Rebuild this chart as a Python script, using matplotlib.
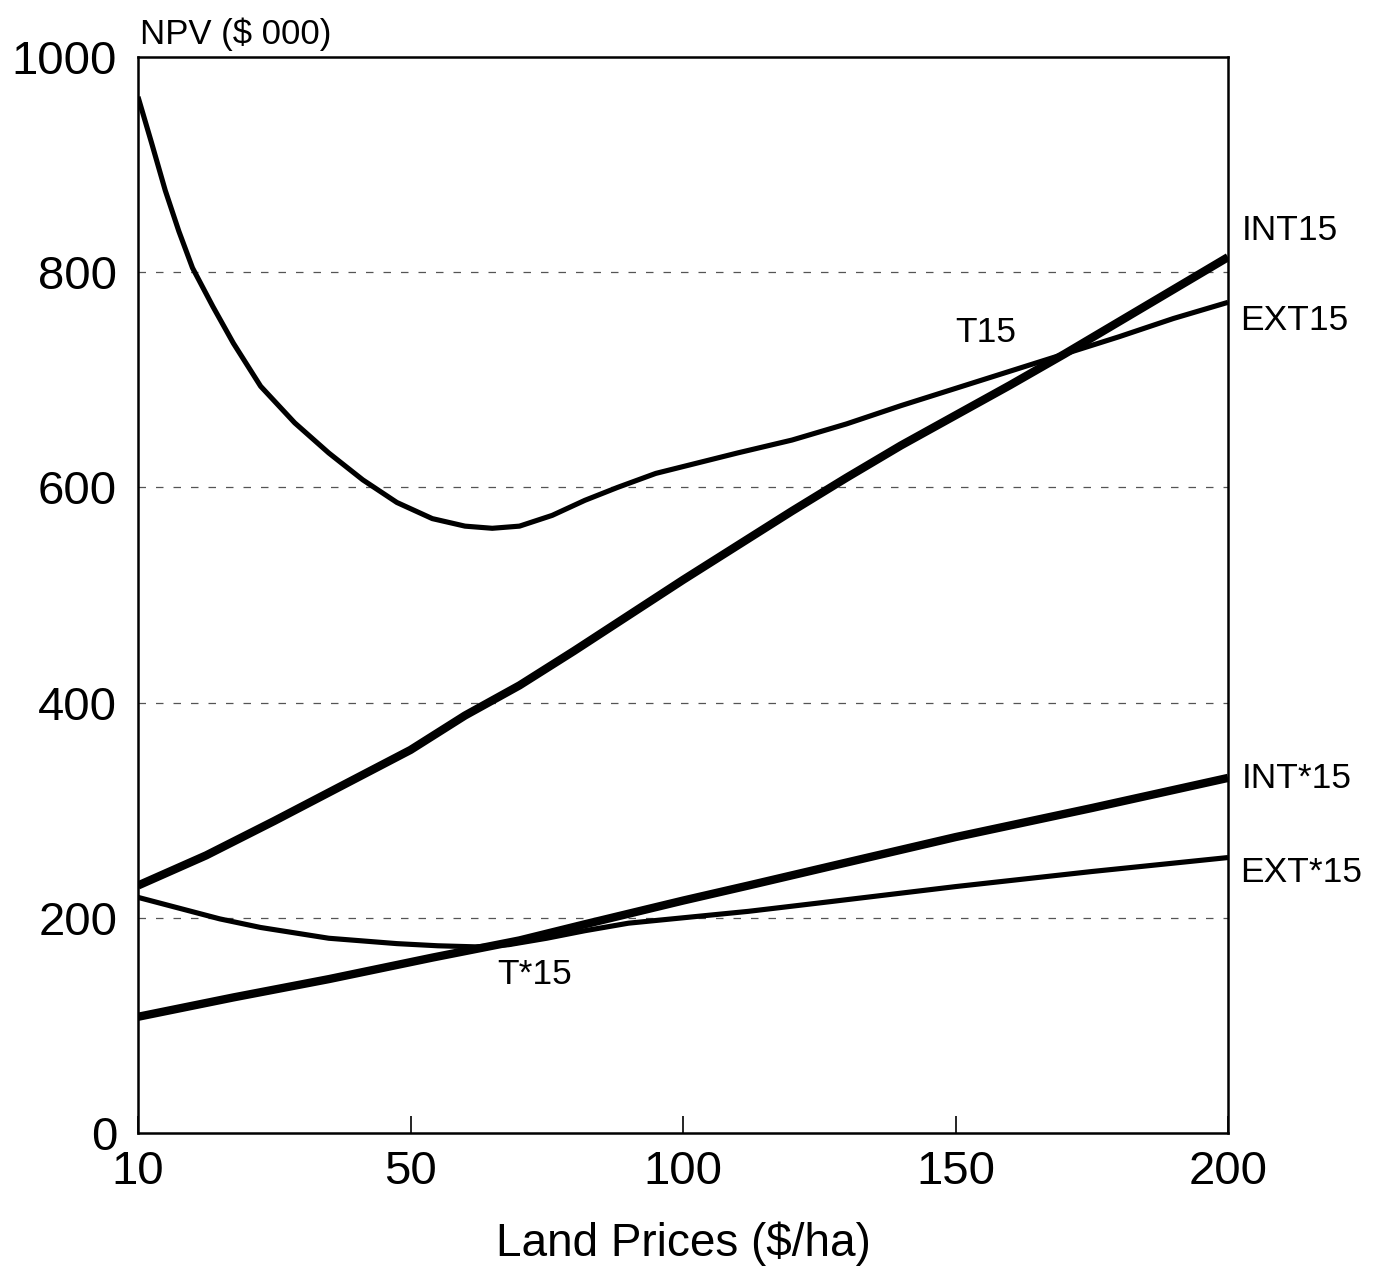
import numpy as np
import matplotlib
matplotlib.use("Agg")
import matplotlib.pyplot as plt

plt.rcParams['font.family'] = ['Liberation Sans', 'DejaVu Sans']

# Category ticks of the land-price axis (equally spaced in the original)
x_ticks = [10, 50, 100, 150, 200]
y_ticks = [0, 200, 400, 600, 800, 1000]

# T15 / EXT15 (thin)
t15_x = [10, 12, 14, 16, 18, 21, 24, 28, 33, 38, 43, 48, 54, 60, 65, 70, 76, 82, 88, 95,
         110, 120, 130, 140, 150, 160, 170, 180, 190, 200]
t15_y = [963, 920, 876, 838, 804, 768, 734, 694, 660, 632, 607, 586, 571, 564, 562, 564,
         574, 588, 600, 613, 632, 644, 659, 676, 692, 708, 724, 740, 757, 772]

# INT15 (thick)
int15_x = [10, 20, 30, 40, 50, 60, 70, 80, 90, 100, 110, 120, 130, 140, 150, 160, 170, 180, 190, 200]
int15_y = [230, 258, 290, 323, 356, 388, 416, 448, 481, 514, 546, 578, 609, 639, 667, 695, 724, 754, 784, 814]

# T*15 / EXT*15 (thin)
ts15_x = [10, 16, 22, 28, 38, 48, 55, 62, 68, 75, 82, 90, 100, 112, 127, 150, 175, 200]
ts15_y = [219, 209, 199, 191, 181, 176, 174, 173, 175, 181, 188, 195, 200, 206, 215, 229, 243, 256]

# INT*15 (thick)
ints15_x = [10, 24, 38, 54, 70, 82, 100, 112, 128, 150, 175, 200]
ints15_y = [108, 126, 143, 163, 179, 194, 216, 230, 249, 275, 302, 330]

pos = np.arange(len(x_ticks), dtype=float)
xt = np.array(x_ticks, dtype=float)


def _pw(v, src, dst):
    v = np.asarray(v, dtype=float)
    out = np.interp(v, src, dst)
    lo = v < src[0]
    hi = v > src[-1]
    out = np.where(lo, dst[0] + (v - src[0]) * (dst[1] - dst[0]) / (src[1] - src[0]), out)
    out = np.where(hi, dst[-1] + (v - src[-1]) * (dst[-1] - dst[-2]) / (src[-1] - src[-2]), out)
    return out


def fwd(v):
    return _pw(v, xt, pos)


def inv(v):
    return _pw(v, pos, xt)


W, H = 1384, 1277
fig = plt.figure(figsize=(W / 100, H / 100), dpi=100)
ax = fig.add_axes([138 / W, 1 - 1133 / H, (1228 - 138) / W, (1133 - 57) / H])
ax.set_xscale('function', functions=(fwd, inv))
ax.set_xlim(10, 200)
ax.set_ylim(0, 1000)

for g in [200, 400, 600, 800]:
    ax.axhline(g, color='#555555', lw=0.9, ls=(0, (6, 8)), zorder=1)

thin = 3.7
thick = 6.0
style = dict(color='black', solid_capstyle='butt', solid_joinstyle='round', zorder=3)
ax.plot(t15_x, t15_y, lw=thin, **style)
ax.plot(int15_x, int15_y, lw=thick, **style)
ax.plot(ts15_x, ts15_y, lw=thin, **style)
ax.plot(ints15_x, ints15_y, lw=thick, **style)

ax.set_xticks(x_ticks)
ax.set_xticklabels([str(v) for v in x_ticks])
ax.set_yticks(y_ticks)
ax.set_yticklabels([str(v) for v in y_ticks])
ax.minorticks_off()
ax.tick_params(axis='x', direction='in', length=12, width=1.2, pad=12, labelsize=34)
ax.tick_params(axis='y', length=0, pad=15, labelsize=34)
for s in ax.spines.values():
    s.set_linewidth(1.8)
    s.set_color('black')

ax.set_xlabel('Land Prices ($/ha)', fontsize=33, labelpad=20)
ax.text(0.002, 1.006, 'NPV ($ 000)', transform=ax.transAxes, fontsize=25,
        ha='left', va='bottom')

lab = dict(fontsize=25.5, va='center', ha='left')
fig.text(1242 / W, 1 - 230 / H, 'INT15', **lab)
fig.text(1240 / W, 1 - 320 / H, 'EXT15', **lab)
fig.text(955 / W, 1 - 333 / H, 'T15', **lab)
fig.text(1242 / W, 1 - 778 / H, 'INT*15', **lab)
fig.text(1240 / W, 1 - 873 / H, 'EXT*15', **lab)
fig.text(497 / W, 1 - 975 / H, 'T*15', **lab)

fig.savefig('out.png', dpi=100, facecolor='white')
